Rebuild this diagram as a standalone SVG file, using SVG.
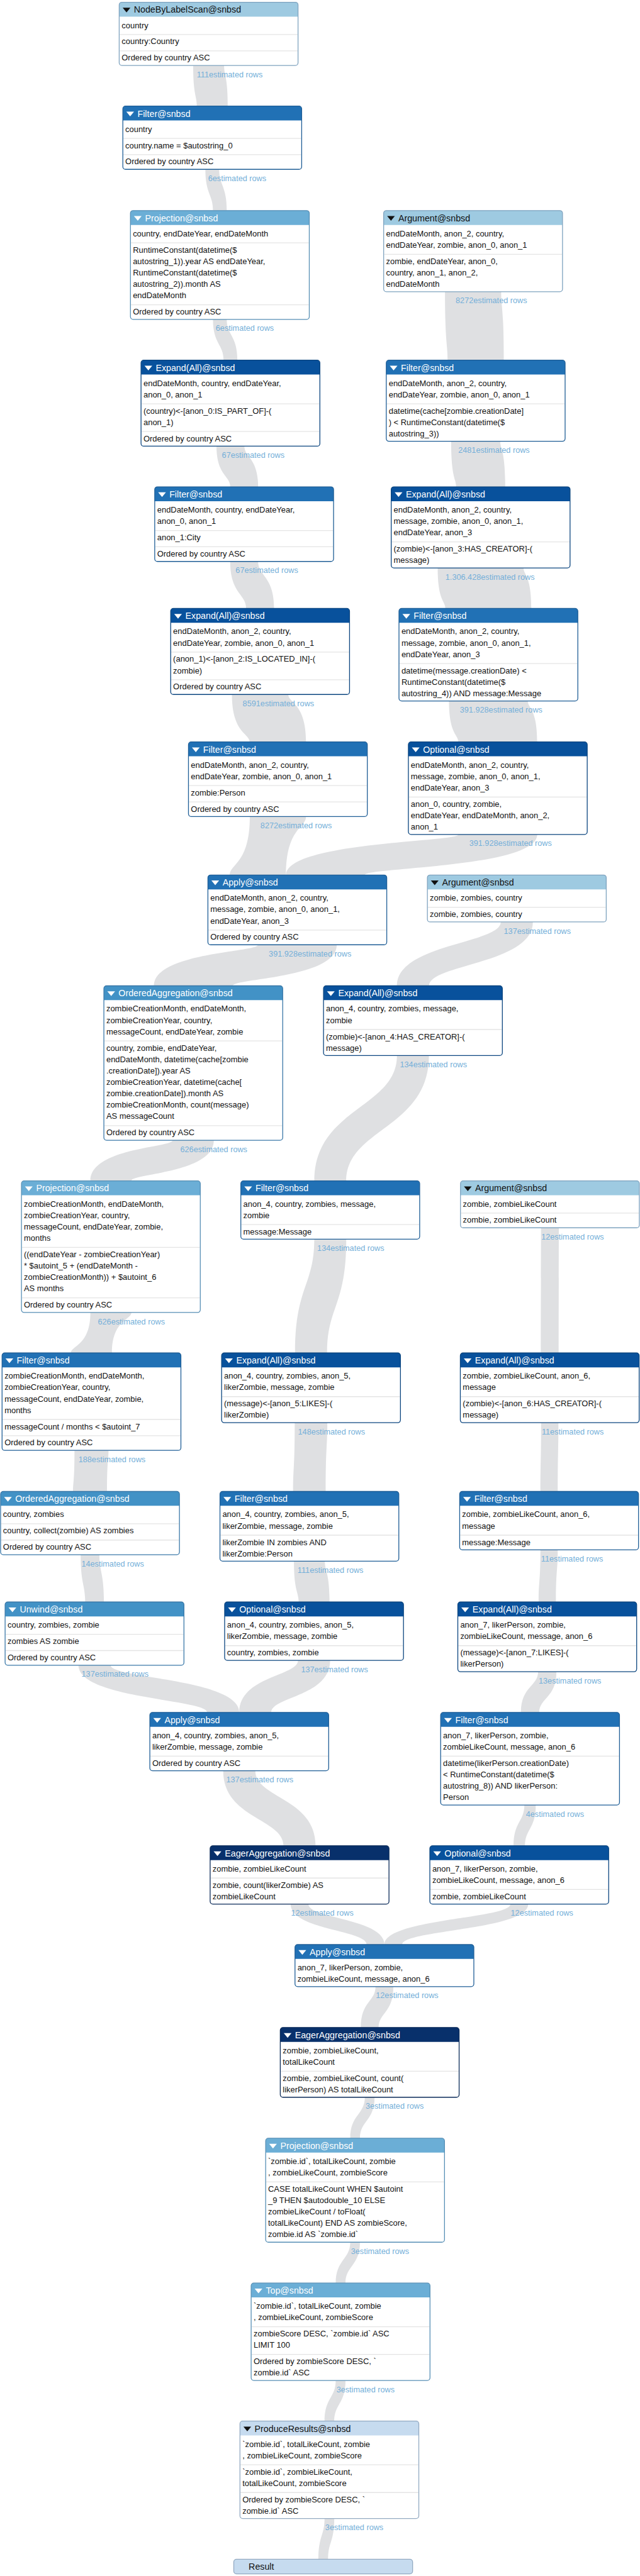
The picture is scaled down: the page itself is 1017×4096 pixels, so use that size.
<svg xmlns="http://www.w3.org/2000/svg" width="1017" height="4096" viewBox="0 0 1017 4096">
<defs>
<style>
.bx{fill:#fff}
.ol{fill:none;stroke-width:1.5}
.sp{stroke:#e4e4e4;stroke-width:1.5}
text{font-family:"Liberation Sans",Arial,Helvetica,sans-serif}
.t{font-size:15px;fill:#111}
.ti{font-size:16.5px;fill:#fff}
.lb{font-size:14.7px;fill:#74afd9;text-anchor:end}
.lk{fill:#dfe0e2}
.tr{fill:#fff}
.a .hf{fill:#9ecae1}.a .ol{stroke:#7fa3bf}.a .ti,.a .tr{fill:#111}
.b .hf{fill:#c6dbef}.b .ol{stroke:#93aac2}.b .ti,.b .tr{fill:#111}
.p .hf{fill:#6baed6}.p .ol{stroke:#578fb5}
.o .hf{fill:#4292c6}.o .ol{stroke:#3a78a8}
.f .hf{fill:#2171b5}.f .ol{stroke:#1f5e96}
.e .hf{fill:#08519c}.e .ol{stroke:#0b457f}
.g .hf{fill:#08306b}.g .ol{stroke:#0a2a58}
</style>
<path id="hd" d="M0,26.5V5A5,5 0 0 1 5,0H324.2A5,5 0 0 1 329.2,5V26.5Z"/>
<path id="tri" d="M6.4,10.2H20.6L13.5,18.9Z"/>
</defs>
<rect width="1017" height="4096" fill="#fff"/>
<g transform="scale(0.8633)">
<g id="links">
<path class="lk" d="M412.45,120.6 C412.45,139.9 419.15,139.9 419.15,195.4 L362.25,195.4 C362.25,176.1 355.55,176.1 355.55,120.6 Z"/>
<path class="lk" d="M403.37,311.9 C403.37,341.78 417.37,341.78 417.37,387.8 L392.02,387.8 C392.02,357.92 378.02,357.92 378.02,311.9 Z"/>
<path class="lk" d="M417.37,588.3 C417.37,617.73 436.87,617.73 436.87,663.3 L411.52,663.3 C411.52,633.87 392.02,633.87 392.02,588.3 Z"/>
<path class="lk" d="M449.9,821.8 C449.9,842.84 475.1,842.84 475.1,896.6 L423.7,896.6 C423.7,875.56 398.5,875.56 398.5,821.8 Z"/>
<path class="lk" d="M475.1,1034.1 C475.1,1060.99 504.5,1060.99 504.5,1120.6 L453.1,1120.6 C453.1,1093.71 423.7,1093.71 423.7,1034.1 Z"/>
<path class="lk" d="M530.7,1279.1 C530.7,1294.98 563.4,1294.98 563.4,1366.5 L459.6,1366.5 C459.6,1350.62 426.9,1350.62 426.9,1279.1 Z"/>
<path class="lk" d="M563.2,1504 C563.2,1524.89 526.45,1524.89 526.45,1611.6 L423.05,1611.6 C423.05,1590.71 459.8,1590.71 459.8,1504 Z"/>
<path class="lk" d="M922.5,537.3 C922.5,567.39 927.3,567.39 927.3,663.3 L823.9,663.3 C823.9,633.21 819.1,633.21 819.1,537.3 Z"/>
<path class="lk" d="M920.8,812.8 C920.8,828.03 929.9,828.03 929.9,896.6 L839.5,896.6 C839.5,881.37 830.4,881.37 830.4,812.8 Z"/>
<path class="lk" d="M963.75,1046.1 C963.75,1059.64 978.05,1059.64 978.05,1120.6 L819.95,1120.6 C819.95,1107.06 805.65,1107.06 805.65,1046.1 Z"/>
<path class="lk" d="M971.55,1291.1 C971.55,1304.8 988.85,1304.8 988.85,1366.5 L843.75,1366.5 C843.75,1352.8 826.45,1352.8 826.45,1291.1 Z"/>
<path class="lk" d="M988.85,1537 C988.85,1598.05 671.55,1598.05 671.55,1611.6 L526.45,1611.6 C526.45,1550.55 843.75,1550.55 843.75,1537 Z"/>
<path class="lk" d="M619.85,1740.1 C619.85,1801.96 428.35,1801.96 428.35,1815.7 L283.25,1815.7 C283.25,1753.84 474.75,1753.84 474.75,1740.1 Z"/>
<path class="lk" d="M980.85,1698.1 C980.85,1775.71 789.65,1775.71 789.65,1815.7 L730.55,1815.7 C730.55,1738.09 921.75,1738.09 921.75,1698.1 Z"/>
<path class="lk" d="M393.55,2100.2 C393.55,2161.33 241.85,2161.33 241.85,2174.9 L166.35,2174.9 C166.35,2113.77 318.05,2113.77 318.05,2100.2 Z"/>
<path class="lk" d="M789.55,1944.2 C789.55,2078.3 637.35,2078.3 637.35,2174.9 L578.45,2174.9 C578.45,2040.8 730.65,2040.8 730.65,1944.2 Z"/>
<path class="lk" d="M241.85,2417.4 C241.85,2430.94 206.15,2430.94 206.15,2491.9 L130.65,2491.9 C130.65,2478.36 166.35,2478.36 166.35,2417.4 Z"/>
<path class="lk" d="M637.35,2282.4 C637.35,2405.9 601.95,2405.9 601.95,2491.9 L543.05,2491.9 C543.05,2368.4 578.45,2368.4 578.45,2282.4 Z"/>
<path class="lk" d="M1028.6,2261.4 C1028.6,2366.21 1028.3,2366.21 1028.3,2491.9 L995.5,2491.9 C995.5,2387.09 995.8,2387.09 995.8,2261.4 Z"/>
<path class="lk" d="M199.7,2671.4 C199.7,2689.27 197,2689.27 197,2747 L134.4,2747 C134.4,2729.13 137.1,2729.13 137.1,2671.4 Z"/>
<path class="lk" d="M602.5,2620.4 C602.5,2664.6 599.5,2664.6 599.5,2747 L539.5,2747 C539.5,2702.8 542.5,2702.8 542.5,2620.4 Z"/>
<path class="lk" d="M1027.85,2620.4 C1027.85,2673.55 1026.65,2673.55 1026.65,2747 L994.75,2747 C994.75,2693.85 995.95,2693.85 995.95,2620.4 Z"/>
<path class="lk" d="M182.95,2863.5 C182.95,2896.07 191.25,2896.07 191.25,2950.6 L156.75,2950.6 C156.75,2918.03 148.45,2918.03 148.45,2863.5 Z"/>
<path class="lk" d="M597.95,2875.5 C597.95,2894.94 606.55,2894.94 606.55,2950.6 L549.65,2950.6 C549.65,2931.16 541.05,2931.16 541.05,2875.5 Z"/>
<path class="lk" d="M1026.65,2854.5 C1026.65,2892.4 1023.25,2892.4 1023.25,2950.6 L991.35,2950.6 C991.35,2912.7 994.75,2912.7 994.75,2854.5 Z"/>
<path class="lk" d="M203.55,3067.1 C203.55,3091.74 440.4,3091.74 440.4,3154 L381.3,3154 C381.3,3129.36 144.45,3129.36 144.45,3067.1 Z"/>
<path class="lk" d="M607.65,3058.1 C607.65,3124.86 499.5,3124.86 499.5,3154 L440.4,3154 C440.4,3087.24 548.55,3087.24 548.55,3058.1 Z"/>
<path class="lk" d="M1024.15,3079.1 C1024.15,3127.28 992.55,3127.28 992.55,3154 L958.85,3154 C958.85,3105.82 990.45,3105.82 990.45,3079.1 Z"/>
<path class="lk" d="M469.95,3261.5 C469.95,3311.74 580.95,3311.74 580.95,3399.6 L521.85,3399.6 C521.85,3349.36 410.85,3349.36 410.85,3261.5 Z"/>
<path class="lk" d="M986.2,3324.5 C986.2,3368.73 966.3,3368.73 966.3,3399.6 L945.3,3399.6 C945.3,3355.37 965.2,3355.37 965.2,3324.5 Z"/>
<path class="lk" d="M567.8,3507.1 C567.8,3533.91 707.6,3533.91 707.6,3581.6 L674.8,3581.6 C674.8,3554.79 535,3554.79 535,3507.1 Z"/>
<path class="lk" d="M972.2,3507.1 C972.2,3554.79 740.4,3554.79 740.4,3581.6 L707.6,3581.6 C707.6,3533.91 939.4,3533.91 939.4,3507.1 Z"/>
<path class="lk" d="M724,3659.1 C724,3707.14 696.9,3707.14 696.9,3734.3 L664.1,3734.3 C664.1,3686.26 691.2,3686.26 691.2,3659.1 Z"/>
<path class="lk" d="M689.45,3862.8 C689.45,3906.25 662.55,3906.25 662.55,3938.3 L644.65,3938.3 C644.65,3894.85 671.55,3894.85 671.55,3862.8 Z"/>
<path class="lk" d="M662.55,4129.8 C662.55,4173.1 635.85,4173.1 635.85,4205 L617.95,4205 C617.95,4161.7 644.65,4161.7 644.65,4129.8 Z"/>
<path class="lk" d="M635.85,4384.5 C635.85,4427.6 615.25,4427.6 615.25,4459.3 L597.35,4459.3 C597.35,4416.2 617.95,4416.2 617.95,4384.5 Z"/>
<path class="lk" d="M615.25,4638.8 C615.25,4681.95 603.85,4681.95 603.85,4713.7 L585.95,4713.7 C585.95,4670.55 597.35,4670.55 597.35,4638.8 Z"/>
</g>
<g id="labels">
<text class="lb" x="483.4" y="142.1">111estimated rows</text>
<text class="lb" x="490.1" y="333.4">6estimated rows</text>
<text class="lb" x="504.1" y="609.8">6estimated rows</text>
<text class="lb" x="523.6" y="843.3">67estimated rows</text>
<text class="lb" x="548.8" y="1055.6">67estimated rows</text>
<text class="lb" x="578.2" y="1300.6">8591estimated rows</text>
<text class="lb" x="610.9" y="1525.5">8272estimated rows</text>
<text class="lb" x="970.2" y="558.8">8272estimated rows</text>
<text class="lb" x="975" y="834.3">2481estimated rows</text>
<text class="lb" x="984.1" y="1067.6">1.306.428estimated rows</text>
<text class="lb" x="998.4" y="1312.6">391.928estimated rows</text>
<text class="lb" x="1015.7" y="1558.5">391.928estimated rows</text>
<text class="lb" x="646.7" y="1761.6">391.928estimated rows</text>
<text class="lb" x="1050.7" y="1719.6">137estimated rows</text>
<text class="lb" x="455.2" y="2121.7">626estimated rows</text>
<text class="lb" x="859.5" y="1965.7">134estimated rows</text>
<text class="lb" x="303.5" y="2438.9">626estimated rows</text>
<text class="lb" x="707.3" y="2303.9">134estimated rows</text>
<text class="lb" x="1111.6" y="2282.9">12estimated rows</text>
<text class="lb" x="267.8" y="2692.9">188estimated rows</text>
<text class="lb" x="671.9" y="2641.9">148estimated rows</text>
<text class="lb" x="1111.3" y="2641.9">11estimated rows</text>
<text class="lb" x="265.1" y="2885">14estimated rows</text>
<text class="lb" x="668.9" y="2897">111estimated rows</text>
<text class="lb" x="1110.1" y="2876">11estimated rows</text>
<text class="lb" x="273.4" y="3088.6">137estimated rows</text>
<text class="lb" x="677.5" y="3079.6">137estimated rows</text>
<text class="lb" x="1106.7" y="3100.6">13estimated rows</text>
<text class="lb" x="539.8" y="3283">137estimated rows</text>
<text class="lb" x="1075.1" y="3346">4estimated rows</text>
<text class="lb" x="650.8" y="3528.6">12estimated rows</text>
<text class="lb" x="1055.2" y="3528.6">12estimated rows</text>
<text class="lb" x="807" y="3680.6">12estimated rows</text>
<text class="lb" x="779.9" y="3884.3">3estimated rows</text>
<text class="lb" x="753" y="4151.3">3estimated rows</text>
<text class="lb" x="726.3" y="4406">3estimated rows</text>
<text class="lb" x="705.7" y="4660.3">3estimated rows</text>
</g>

<g id="n1" class="a" transform="translate(219.4,4.1)">
<rect class="bx" width="329.2" height="116.5" rx="5"/><use href="#hd" class="hf"/><use href="#tri" class="tr"/>
<text class="ti" x="27" y="19.6">NodeByLabelScan@snbsd</text>
<line class="sp" x1="1" x2="328.2" y1="59.5" y2="59.5"/><line class="sp" x1="1" x2="328.2" y1="89.5" y2="89.5"/>
<text class="t" x="4.5" y="47.5">country</text>
<text class="t" x="4.5" y="77.5">country:Country</text>
<text class="t" x="4.5" y="107.5">Ordered by country ASC</text>
<rect class="ol" width="329.2" height="116.5" rx="5"/>
</g>

<g id="n2" class="f" transform="translate(226.1,195.4)">
<rect class="bx" width="329.2" height="116.5" rx="5"/><use href="#hd" class="hf"/><use href="#tri" class="tr"/>
<text class="ti" x="27" y="19.6">Filter@snbsd</text>
<line class="sp" x1="1" x2="328.2" y1="59.5" y2="59.5"/><line class="sp" x1="1" x2="328.2" y1="89.5" y2="89.5"/>
<text class="t" x="4.5" y="47.5">country</text>
<text class="t" x="4.5" y="77.5">country.name = $autostring_0</text>
<text class="t" x="4.5" y="107.5">Ordered by country ASC</text>
<rect class="ol" width="329.2" height="116.5" rx="5"/>
</g>

<g id="n3" class="p" transform="translate(240.1,387.8)">
<rect class="bx" width="329.2" height="200.5" rx="5"/><use href="#hd" class="hf"/><use href="#tri" class="tr"/>
<text class="ti" x="27" y="19.6">Projection@snbsd</text>
<line class="sp" x1="1" x2="328.2" y1="59.5" y2="59.5"/><line class="sp" x1="1" x2="328.2" y1="173.5" y2="173.5"/>
<text class="t" x="4.5" y="47.5">country, endDateYear, endDateMonth</text>
<text class="t" x="4.5" y="77.5">RuntimeConstant(datetime($<tspan x="4.5" dy="21">autostring_1)).year AS endDateYear,</tspan><tspan x="4.5" dy="21">RuntimeConstant(datetime($</tspan><tspan x="4.5" dy="21">autostring_2)).month AS</tspan><tspan x="4.5" dy="21">endDateMonth</tspan></text>
<text class="t" x="4.5" y="191.5">Ordered by country ASC</text>
<rect class="ol" width="329.2" height="200.5" rx="5"/>
</g>

<g id="n4" class="e" transform="translate(259.6,663.3)">
<rect class="bx" width="329.2" height="158.5" rx="5"/><use href="#hd" class="hf"/><use href="#tri" class="tr"/>
<text class="ti" x="27" y="19.6">Expand(All)@snbsd</text>
<line class="sp" x1="1" x2="328.2" y1="80.5" y2="80.5"/><line class="sp" x1="1" x2="328.2" y1="131.5" y2="131.5"/>
<text class="t" x="4.5" y="47.5">endDateMonth, country, endDateYear,<tspan x="4.5" dy="21">anon_0, anon_1</tspan></text>
<text class="t" x="4.5" y="98.5">(country)&lt;-[anon_0:IS_PART_OF]-(<tspan x="4.5" dy="21">anon_1)</tspan></text>
<text class="t" x="4.5" y="149.5">Ordered by country ASC</text>
<rect class="ol" width="329.2" height="158.5" rx="5"/>
</g>

<g id="n5" class="f" transform="translate(284.8,896.6)">
<rect class="bx" width="329.2" height="137.5" rx="5"/><use href="#hd" class="hf"/><use href="#tri" class="tr"/>
<text class="ti" x="27" y="19.6">Filter@snbsd</text>
<line class="sp" x1="1" x2="328.2" y1="80.5" y2="80.5"/><line class="sp" x1="1" x2="328.2" y1="110.5" y2="110.5"/>
<text class="t" x="4.5" y="47.5">endDateMonth, country, endDateYear,<tspan x="4.5" dy="21">anon_0, anon_1</tspan></text>
<text class="t" x="4.5" y="98.5">anon_1:City</text>
<text class="t" x="4.5" y="128.5">Ordered by country ASC</text>
<rect class="ol" width="329.2" height="137.5" rx="5"/>
</g>

<g id="n6" class="e" transform="translate(314.2,1120.6)">
<rect class="bx" width="329.2" height="158.5" rx="5"/><use href="#hd" class="hf"/><use href="#tri" class="tr"/>
<text class="ti" x="27" y="19.6">Expand(All)@snbsd</text>
<line class="sp" x1="1" x2="328.2" y1="80.5" y2="80.5"/><line class="sp" x1="1" x2="328.2" y1="131.5" y2="131.5"/>
<text class="t" x="4.5" y="47.5">endDateMonth, anon_2, country,<tspan x="4.5" dy="21">endDateYear, zombie, anon_0, anon_1</tspan></text>
<text class="t" x="4.5" y="98.5">(anon_1)&lt;-[anon_2:IS_LOCATED_IN]-(<tspan x="4.5" dy="21">zombie)</tspan></text>
<text class="t" x="4.5" y="149.5">Ordered by country ASC</text>
<rect class="ol" width="329.2" height="158.5" rx="5"/>
</g>

<g id="n7" class="f" transform="translate(346.9,1366.5)">
<rect class="bx" width="329.2" height="137.5" rx="5"/><use href="#hd" class="hf"/><use href="#tri" class="tr"/>
<text class="ti" x="27" y="19.6">Filter@snbsd</text>
<line class="sp" x1="1" x2="328.2" y1="80.5" y2="80.5"/><line class="sp" x1="1" x2="328.2" y1="110.5" y2="110.5"/>
<text class="t" x="4.5" y="47.5">endDateMonth, anon_2, country,<tspan x="4.5" dy="21">endDateYear, zombie, anon_0, anon_1</tspan></text>
<text class="t" x="4.5" y="98.5">zombie:Person</text>
<text class="t" x="4.5" y="128.5">Ordered by country ASC</text>
<rect class="ol" width="329.2" height="137.5" rx="5"/>
</g>

<g id="n8" class="a" transform="translate(706.2,387.8)">
<rect class="bx" width="329.2" height="149.5" rx="5"/><use href="#hd" class="hf"/><use href="#tri" class="tr"/>
<text class="ti" x="27" y="19.6">Argument@snbsd</text>
<line class="sp" x1="1" x2="328.2" y1="80.5" y2="80.5"/>
<text class="t" x="4.5" y="47.5">endDateMonth, anon_2, country,<tspan x="4.5" dy="21">endDateYear, zombie, anon_0, anon_1</tspan></text>
<text class="t" x="4.5" y="98.5">zombie, endDateYear, anon_0,<tspan x="4.5" dy="21">country, anon_1, anon_2,</tspan><tspan x="4.5" dy="21">endDateMonth</tspan></text>
<rect class="ol" width="329.2" height="149.5" rx="5"/>
</g>

<g id="n9" class="f" transform="translate(711,663.3)">
<rect class="bx" width="329.2" height="149.5" rx="5"/><use href="#hd" class="hf"/><use href="#tri" class="tr"/>
<text class="ti" x="27" y="19.6">Filter@snbsd</text>
<line class="sp" x1="1" x2="328.2" y1="80.5" y2="80.5"/>
<text class="t" x="4.5" y="47.5">endDateMonth, anon_2, country,<tspan x="4.5" dy="21">endDateYear, zombie, anon_0, anon_1</tspan></text>
<text class="t" x="4.5" y="98.5">datetime(cache[zombie.creationDate]<tspan x="4.5" dy="21">) &lt; RuntimeConstant(datetime($</tspan><tspan x="4.5" dy="21">autostring_3))</tspan></text>
<rect class="ol" width="329.2" height="149.5" rx="5"/>
</g>

<g id="n10" class="e" transform="translate(720.1,896.6)">
<rect class="bx" width="329.2" height="149.5" rx="5"/><use href="#hd" class="hf"/><use href="#tri" class="tr"/>
<text class="ti" x="27" y="19.6">Expand(All)@snbsd</text>
<line class="sp" x1="1" x2="328.2" y1="101.5" y2="101.5"/>
<text class="t" x="4.5" y="47.5">endDateMonth, anon_2, country,<tspan x="4.5" dy="21">message, zombie, anon_0, anon_1,</tspan><tspan x="4.5" dy="21">endDateYear, anon_3</tspan></text>
<text class="t" x="4.5" y="119.5">(zombie)&lt;-[anon_3:HAS_CREATOR]-(<tspan x="4.5" dy="21">message)</tspan></text>
<rect class="ol" width="329.2" height="149.5" rx="5"/>
</g>

<g id="n11" class="f" transform="translate(734.4,1120.6)">
<rect class="bx" width="329.2" height="170.5" rx="5"/><use href="#hd" class="hf"/><use href="#tri" class="tr"/>
<text class="ti" x="27" y="19.6">Filter@snbsd</text>
<line class="sp" x1="1" x2="328.2" y1="101.5" y2="101.5"/>
<text class="t" x="4.5" y="47.5">endDateMonth, anon_2, country,<tspan x="4.5" dy="21">message, zombie, anon_0, anon_1,</tspan><tspan x="4.5" dy="21">endDateYear, anon_3</tspan></text>
<text class="t" x="4.5" y="119.5">datetime(message.creationDate) &lt;<tspan x="4.5" dy="21">RuntimeConstant(datetime($</tspan><tspan x="4.5" dy="21">autostring_4)) AND message:Message</tspan></text>
<rect class="ol" width="329.2" height="170.5" rx="5"/>
</g>

<g id="n12" class="e" transform="translate(751.7,1366.5)">
<rect class="bx" width="329.2" height="170.5" rx="5"/><use href="#hd" class="hf"/><use href="#tri" class="tr"/>
<text class="ti" x="27" y="19.6">Optional@snbsd</text>
<line class="sp" x1="1" x2="328.2" y1="101.5" y2="101.5"/>
<text class="t" x="4.5" y="47.5">endDateMonth, anon_2, country,<tspan x="4.5" dy="21">message, zombie, anon_0, anon_1,</tspan><tspan x="4.5" dy="21">endDateYear, anon_3</tspan></text>
<text class="t" x="4.5" y="119.5">anon_0, country, zombie,<tspan x="4.5" dy="21">endDateYear, endDateMonth, anon_2,</tspan><tspan x="4.5" dy="21">anon_1</tspan></text>
<rect class="ol" width="329.2" height="170.5" rx="5"/>
</g>

<g id="n13" class="f" transform="translate(382.7,1611.6)">
<rect class="bx" width="329.2" height="128.5" rx="5"/><use href="#hd" class="hf"/><use href="#tri" class="tr"/>
<text class="ti" x="27" y="19.6">Apply@snbsd</text>
<line class="sp" x1="1" x2="328.2" y1="101.5" y2="101.5"/>
<text class="t" x="4.5" y="47.5">endDateMonth, anon_2, country,<tspan x="4.5" dy="21">message, zombie, anon_0, anon_1,</tspan><tspan x="4.5" dy="21">endDateYear, anon_3</tspan></text>
<text class="t" x="4.5" y="119.5">Ordered by country ASC</text>
<rect class="ol" width="329.2" height="128.5" rx="5"/>
</g>

<g id="n14" class="a" transform="translate(786.7,1611.6)">
<rect class="bx" width="329.2" height="86.5" rx="5"/><use href="#hd" class="hf"/><use href="#tri" class="tr"/>
<text class="ti" x="27" y="19.6">Argument@snbsd</text>
<line class="sp" x1="1" x2="328.2" y1="59.5" y2="59.5"/>
<text class="t" x="4.5" y="47.5">zombie, zombies, country</text>
<text class="t" x="4.5" y="77.5">zombie, zombies, country</text>
<rect class="ol" width="329.2" height="86.5" rx="5"/>
</g>

<g id="n15" class="o" transform="translate(191.2,1815.7)">
<rect class="bx" width="329.2" height="284.5" rx="5"/><use href="#hd" class="hf"/><use href="#tri" class="tr"/>
<text class="ti" x="27" y="19.6">OrderedAggregation@snbsd</text>
<line class="sp" x1="1" x2="328.2" y1="101.5" y2="101.5"/><line class="sp" x1="1" x2="328.2" y1="257.5" y2="257.5"/>
<text class="t" x="4.5" y="47.5">zombieCreationMonth, endDateMonth,<tspan x="4.5" dy="21">zombieCreationYear, country,</tspan><tspan x="4.5" dy="21">messageCount, endDateYear, zombie</tspan></text>
<text class="t" x="4.5" y="119.5">country, zombie, endDateYear,<tspan x="4.5" dy="21">endDateMonth, datetime(cache[zombie</tspan><tspan x="4.5" dy="21">.creationDate]).year AS</tspan><tspan x="4.5" dy="21">zombieCreationYear, datetime(cache[</tspan><tspan x="4.5" dy="21">zombie.creationDate]).month AS</tspan><tspan x="4.5" dy="21">zombieCreationMonth, count(message)</tspan><tspan x="4.5" dy="21">AS messageCount</tspan></text>
<text class="t" x="4.5" y="275.5">Ordered by country ASC</text>
<rect class="ol" width="329.2" height="284.5" rx="5"/>
</g>

<g id="n16" class="e" transform="translate(595.5,1815.7)">
<rect class="bx" width="329.2" height="128.5" rx="5"/><use href="#hd" class="hf"/><use href="#tri" class="tr"/>
<text class="ti" x="27" y="19.6">Expand(All)@snbsd</text>
<line class="sp" x1="1" x2="328.2" y1="80.5" y2="80.5"/>
<text class="t" x="4.5" y="47.5">anon_4, country, zombies, message,<tspan x="4.5" dy="21">zombie</tspan></text>
<text class="t" x="4.5" y="98.5">(zombie)&lt;-[anon_4:HAS_CREATOR]-(<tspan x="4.5" dy="21">message)</tspan></text>
<rect class="ol" width="329.2" height="128.5" rx="5"/>
</g>

<g id="n17" class="p" transform="translate(39.5,2174.9)">
<rect class="bx" width="329.2" height="242.5" rx="5"/><use href="#hd" class="hf"/><use href="#tri" class="tr"/>
<text class="ti" x="27" y="19.6">Projection@snbsd</text>
<line class="sp" x1="1" x2="328.2" y1="122.5" y2="122.5"/><line class="sp" x1="1" x2="328.2" y1="215.5" y2="215.5"/>
<text class="t" x="4.5" y="47.5">zombieCreationMonth, endDateMonth,<tspan x="4.5" dy="21">zombieCreationYear, country,</tspan><tspan x="4.5" dy="21">messageCount, endDateYear, zombie,</tspan><tspan x="4.5" dy="21">months</tspan></text>
<text class="t" x="4.5" y="140.5">((endDateYear - zombieCreationYear)<tspan x="4.5" dy="21">* $autoint_5 + (endDateMonth -</tspan><tspan x="4.5" dy="21">zombieCreationMonth)) + $autoint_6</tspan><tspan x="4.5" dy="21">AS months</tspan></text>
<text class="t" x="4.5" y="233.5">Ordered by country ASC</text>
<rect class="ol" width="329.2" height="242.5" rx="5"/>
</g>

<g id="n18" class="f" transform="translate(443.3,2174.9)">
<rect class="bx" width="329.2" height="107.5" rx="5"/><use href="#hd" class="hf"/><use href="#tri" class="tr"/>
<text class="ti" x="27" y="19.6">Filter@snbsd</text>
<line class="sp" x1="1" x2="328.2" y1="80.5" y2="80.5"/>
<text class="t" x="4.5" y="47.5">anon_4, country, zombies, message,<tspan x="4.5" dy="21">zombie</tspan></text>
<text class="t" x="4.5" y="98.5">message:Message</text>
<rect class="ol" width="329.2" height="107.5" rx="5"/>
</g>

<g id="n19" class="a" transform="translate(847.6,2174.9)">
<rect class="bx" width="329.2" height="86.5" rx="5"/><use href="#hd" class="hf"/><use href="#tri" class="tr"/>
<text class="ti" x="27" y="19.6">Argument@snbsd</text>
<line class="sp" x1="1" x2="328.2" y1="59.5" y2="59.5"/>
<text class="t" x="4.5" y="47.5">zombie, zombieLikeCount</text>
<text class="t" x="4.5" y="77.5">zombie, zombieLikeCount</text>
<rect class="ol" width="329.2" height="86.5" rx="5"/>
</g>

<g id="n20" class="f" transform="translate(3.8,2491.9)">
<rect class="bx" width="329.2" height="179.5" rx="5"/><use href="#hd" class="hf"/><use href="#tri" class="tr"/>
<text class="ti" x="27" y="19.6">Filter@snbsd</text>
<line class="sp" x1="1" x2="328.2" y1="122.5" y2="122.5"/><line class="sp" x1="1" x2="328.2" y1="152.5" y2="152.5"/>
<text class="t" x="4.5" y="47.5">zombieCreationMonth, endDateMonth,<tspan x="4.5" dy="21">zombieCreationYear, country,</tspan><tspan x="4.5" dy="21">messageCount, endDateYear, zombie,</tspan><tspan x="4.5" dy="21">months</tspan></text>
<text class="t" x="4.5" y="140.5">messageCount / months &lt; $autoint_7</text>
<text class="t" x="4.5" y="170.5">Ordered by country ASC</text>
<rect class="ol" width="329.2" height="179.5" rx="5"/>
</g>

<g id="n21" class="e" transform="translate(407.9,2491.9)">
<rect class="bx" width="329.2" height="128.5" rx="5"/><use href="#hd" class="hf"/><use href="#tri" class="tr"/>
<text class="ti" x="27" y="19.6">Expand(All)@snbsd</text>
<line class="sp" x1="1" x2="328.2" y1="80.5" y2="80.5"/>
<text class="t" x="4.5" y="47.5">anon_4, country, zombies, anon_5,<tspan x="4.5" dy="21">likerZombie, message, zombie</tspan></text>
<text class="t" x="4.5" y="98.5">(message)&lt;-[anon_5:LIKES]-(<tspan x="4.5" dy="21">likerZombie)</tspan></text>
<rect class="ol" width="329.2" height="128.5" rx="5"/>
</g>

<g id="n22" class="e" transform="translate(847.3,2491.9)">
<rect class="bx" width="329.2" height="128.5" rx="5"/><use href="#hd" class="hf"/><use href="#tri" class="tr"/>
<text class="ti" x="27" y="19.6">Expand(All)@snbsd</text>
<line class="sp" x1="1" x2="328.2" y1="80.5" y2="80.5"/>
<text class="t" x="4.5" y="47.5">zombie, zombieLikeCount, anon_6,<tspan x="4.5" dy="21">message</tspan></text>
<text class="t" x="4.5" y="98.5">(zombie)&lt;-[anon_6:HAS_CREATOR]-(<tspan x="4.5" dy="21">message)</tspan></text>
<rect class="ol" width="329.2" height="128.5" rx="5"/>
</g>

<g id="n23" class="o" transform="translate(1.1,2747)">
<rect class="bx" width="329.2" height="116.5" rx="5"/><use href="#hd" class="hf"/><use href="#tri" class="tr"/>
<text class="ti" x="27" y="19.6">OrderedAggregation@snbsd</text>
<line class="sp" x1="1" x2="328.2" y1="59.5" y2="59.5"/><line class="sp" x1="1" x2="328.2" y1="89.5" y2="89.5"/>
<text class="t" x="4.5" y="47.5">country, zombies</text>
<text class="t" x="4.5" y="77.5">country, collect(zombie) AS zombies</text>
<text class="t" x="4.5" y="107.5">Ordered by country ASC</text>
<rect class="ol" width="329.2" height="116.5" rx="5"/>
</g>

<g id="n24" class="f" transform="translate(404.9,2747)">
<rect class="bx" width="329.2" height="128.5" rx="5"/><use href="#hd" class="hf"/><use href="#tri" class="tr"/>
<text class="ti" x="27" y="19.6">Filter@snbsd</text>
<line class="sp" x1="1" x2="328.2" y1="80.5" y2="80.5"/>
<text class="t" x="4.5" y="47.5">anon_4, country, zombies, anon_5,<tspan x="4.5" dy="21">likerZombie, message, zombie</tspan></text>
<text class="t" x="4.5" y="98.5">likerZombie IN zombies AND<tspan x="4.5" dy="21">likerZombie:Person</tspan></text>
<rect class="ol" width="329.2" height="128.5" rx="5"/>
</g>

<g id="n25" class="f" transform="translate(846.1,2747)">
<rect class="bx" width="329.2" height="107.5" rx="5"/><use href="#hd" class="hf"/><use href="#tri" class="tr"/>
<text class="ti" x="27" y="19.6">Filter@snbsd</text>
<line class="sp" x1="1" x2="328.2" y1="80.5" y2="80.5"/>
<text class="t" x="4.5" y="47.5">zombie, zombieLikeCount, anon_6,<tspan x="4.5" dy="21">message</tspan></text>
<text class="t" x="4.5" y="98.5">message:Message</text>
<rect class="ol" width="329.2" height="107.5" rx="5"/>
</g>

<g id="n26" class="o" transform="translate(9.4,2950.6)">
<rect class="bx" width="329.2" height="116.5" rx="5"/><use href="#hd" class="hf"/><use href="#tri" class="tr"/>
<text class="ti" x="27" y="19.6">Unwind@snbsd</text>
<line class="sp" x1="1" x2="328.2" y1="59.5" y2="59.5"/><line class="sp" x1="1" x2="328.2" y1="89.5" y2="89.5"/>
<text class="t" x="4.5" y="47.5">country, zombies, zombie</text>
<text class="t" x="4.5" y="77.5">zombies AS zombie</text>
<text class="t" x="4.5" y="107.5">Ordered by country ASC</text>
<rect class="ol" width="329.2" height="116.5" rx="5"/>
</g>

<g id="n27" class="e" transform="translate(413.5,2950.6)">
<rect class="bx" width="329.2" height="107.5" rx="5"/><use href="#hd" class="hf"/><use href="#tri" class="tr"/>
<text class="ti" x="27" y="19.6">Optional@snbsd</text>
<line class="sp" x1="1" x2="328.2" y1="80.5" y2="80.5"/>
<text class="t" x="4.5" y="47.5">anon_4, country, zombies, anon_5,<tspan x="4.5" dy="21">likerZombie, message, zombie</tspan></text>
<text class="t" x="4.5" y="98.5">country, zombies, zombie</text>
<rect class="ol" width="329.2" height="107.5" rx="5"/>
</g>

<g id="n28" class="e" transform="translate(842.7,2950.6)">
<rect class="bx" width="329.2" height="128.5" rx="5"/><use href="#hd" class="hf"/><use href="#tri" class="tr"/>
<text class="ti" x="27" y="19.6">Expand(All)@snbsd</text>
<line class="sp" x1="1" x2="328.2" y1="80.5" y2="80.5"/>
<text class="t" x="4.5" y="47.5">anon_7, likerPerson, zombie,<tspan x="4.5" dy="21">zombieLikeCount, message, anon_6</tspan></text>
<text class="t" x="4.5" y="98.5">(message)&lt;-[anon_7:LIKES]-(<tspan x="4.5" dy="21">likerPerson)</tspan></text>
<rect class="ol" width="329.2" height="128.5" rx="5"/>
</g>

<g id="n29" class="f" transform="translate(275.8,3154)">
<rect class="bx" width="329.2" height="107.5" rx="5"/><use href="#hd" class="hf"/><use href="#tri" class="tr"/>
<text class="ti" x="27" y="19.6">Apply@snbsd</text>
<line class="sp" x1="1" x2="328.2" y1="80.5" y2="80.5"/>
<text class="t" x="4.5" y="47.5">anon_4, country, zombies, anon_5,<tspan x="4.5" dy="21">likerZombie, message, zombie</tspan></text>
<text class="t" x="4.5" y="98.5">Ordered by country ASC</text>
<rect class="ol" width="329.2" height="107.5" rx="5"/>
</g>

<g id="n30" class="f" transform="translate(811.1,3154)">
<rect class="bx" width="329.2" height="170.5" rx="5"/><use href="#hd" class="hf"/><use href="#tri" class="tr"/>
<text class="ti" x="27" y="19.6">Filter@snbsd</text>
<line class="sp" x1="1" x2="328.2" y1="80.5" y2="80.5"/>
<text class="t" x="4.5" y="47.5">anon_7, likerPerson, zombie,<tspan x="4.5" dy="21">zombieLikeCount, message, anon_6</tspan></text>
<text class="t" x="4.5" y="98.5">datetime(likerPerson.creationDate)<tspan x="4.5" dy="21">&lt; RuntimeConstant(datetime($</tspan><tspan x="4.5" dy="21">autostring_8)) AND likerPerson:</tspan><tspan x="4.5" dy="21">Person</tspan></text>
<rect class="ol" width="329.2" height="170.5" rx="5"/>
</g>

<g id="n31" class="g" transform="translate(386.8,3399.6)">
<rect class="bx" width="329.2" height="107.5" rx="5"/><use href="#hd" class="hf"/><use href="#tri" class="tr"/>
<text class="ti" x="27" y="19.6">EagerAggregation@snbsd</text>
<line class="sp" x1="1" x2="328.2" y1="59.5" y2="59.5"/>
<text class="t" x="4.5" y="47.5">zombie, zombieLikeCount</text>
<text class="t" x="4.5" y="77.5">zombie, count(likerZombie) AS<tspan x="4.5" dy="21">zombieLikeCount</tspan></text>
<rect class="ol" width="329.2" height="107.5" rx="5"/>
</g>

<g id="n32" class="e" transform="translate(791.2,3399.6)">
<rect class="bx" width="329.2" height="107.5" rx="5"/><use href="#hd" class="hf"/><use href="#tri" class="tr"/>
<text class="ti" x="27" y="19.6">Optional@snbsd</text>
<line class="sp" x1="1" x2="328.2" y1="80.5" y2="80.5"/>
<text class="t" x="4.5" y="47.5">anon_7, likerPerson, zombie,<tspan x="4.5" dy="21">zombieLikeCount, message, anon_6</tspan></text>
<text class="t" x="4.5" y="98.5">zombie, zombieLikeCount</text>
<rect class="ol" width="329.2" height="107.5" rx="5"/>
</g>

<g id="n33" class="f" transform="translate(543,3581.6)">
<rect class="bx" width="329.2" height="77.5" rx="5"/><use href="#hd" class="hf"/><use href="#tri" class="tr"/>
<text class="ti" x="27" y="19.6">Apply@snbsd</text>
<text class="t" x="4.5" y="47.5">anon_7, likerPerson, zombie,<tspan x="4.5" dy="21">zombieLikeCount, message, anon_6</tspan></text>
<rect class="ol" width="329.2" height="77.5" rx="5"/>
</g>

<g id="n34" class="g" transform="translate(515.9,3734.3)">
<rect class="bx" width="329.2" height="128.5" rx="5"/><use href="#hd" class="hf"/><use href="#tri" class="tr"/>
<text class="ti" x="27" y="19.6">EagerAggregation@snbsd</text>
<line class="sp" x1="1" x2="328.2" y1="80.5" y2="80.5"/>
<text class="t" x="4.5" y="47.5">zombie, zombieLikeCount,<tspan x="4.5" dy="21">totalLikeCount</tspan></text>
<text class="t" x="4.5" y="98.5">zombie, zombieLikeCount, count(<tspan x="4.5" dy="21">likerPerson) AS totalLikeCount</tspan></text>
<rect class="ol" width="329.2" height="128.5" rx="5"/>
</g>

<g id="n35" class="p" transform="translate(489,3938.3)">
<rect class="bx" width="329.2" height="191.5" rx="5"/><use href="#hd" class="hf"/><use href="#tri" class="tr"/>
<text class="ti" x="27" y="19.6">Projection@snbsd</text>
<line class="sp" x1="1" x2="328.2" y1="80.5" y2="80.5"/>
<text class="t" x="4.5" y="47.5">`zombie.id`, totalLikeCount, zombie<tspan x="4.5" dy="21">, zombieLikeCount, zombieScore</tspan></text>
<text class="t" x="4.5" y="98.5">CASE totalLikeCount WHEN $autoint<tspan x="4.5" dy="21">_9 THEN $autodouble_10 ELSE</tspan><tspan x="4.5" dy="21">zombieLikeCount / toFloat(</tspan><tspan x="4.5" dy="21">totalLikeCount) END AS zombieScore,</tspan><tspan x="4.5" dy="21">zombie.id AS `zombie.id`</tspan></text>
<rect class="ol" width="329.2" height="191.5" rx="5"/>
</g>

<g id="n36" class="p" transform="translate(462.3,4205)">
<rect class="bx" width="329.2" height="179.5" rx="5"/><use href="#hd" class="hf"/><use href="#tri" class="tr"/>
<text class="ti" x="27" y="19.6">Top@snbsd</text>
<line class="sp" x1="1" x2="328.2" y1="80.5" y2="80.5"/><line class="sp" x1="1" x2="328.2" y1="131.5" y2="131.5"/>
<text class="t" x="4.5" y="47.5">`zombie.id`, totalLikeCount, zombie<tspan x="4.5" dy="21">, zombieLikeCount, zombieScore</tspan></text>
<text class="t" x="4.5" y="98.5">zombieScore DESC, `zombie.id` ASC<tspan x="4.5" dy="21">LIMIT 100</tspan></text>
<text class="t" x="4.5" y="149.5">Ordered by zombieScore DESC, `<tspan x="4.5" dy="21">zombie.id` ASC</tspan></text>
<rect class="ol" width="329.2" height="179.5" rx="5"/>
</g>

<g id="n37" class="b" transform="translate(441.7,4459.3)">
<rect class="bx" width="329.2" height="179.5" rx="5"/><use href="#hd" class="hf"/><use href="#tri" class="tr"/>
<text class="ti" x="27" y="19.6">ProduceResults@snbsd</text>
<line class="sp" x1="1" x2="328.2" y1="80.5" y2="80.5"/><line class="sp" x1="1" x2="328.2" y1="131.5" y2="131.5"/>
<text class="t" x="4.5" y="47.5">`zombie.id`, totalLikeCount, zombie<tspan x="4.5" dy="21">, zombieLikeCount, zombieScore</tspan></text>
<text class="t" x="4.5" y="98.5">`zombie.id`, zombieLikeCount,<tspan x="4.5" dy="21">totalLikeCount, zombieScore</tspan></text>
<text class="t" x="4.5" y="149.5">Ordered by zombieScore DESC, `<tspan x="4.5" dy="21">zombie.id` ASC</tspan></text>
<rect class="ol" width="329.2" height="179.5" rx="5"/>
</g>

<g id="n38" class="b" transform="translate(430.3,4713.7)">
<rect width="329.2" height="27" rx="5" fill="#c6dbef" stroke="#93aac2" stroke-width="1.5"/>
<text class="ti" x="27.4" y="19">Result</text>
</g>
</g>
</svg>
